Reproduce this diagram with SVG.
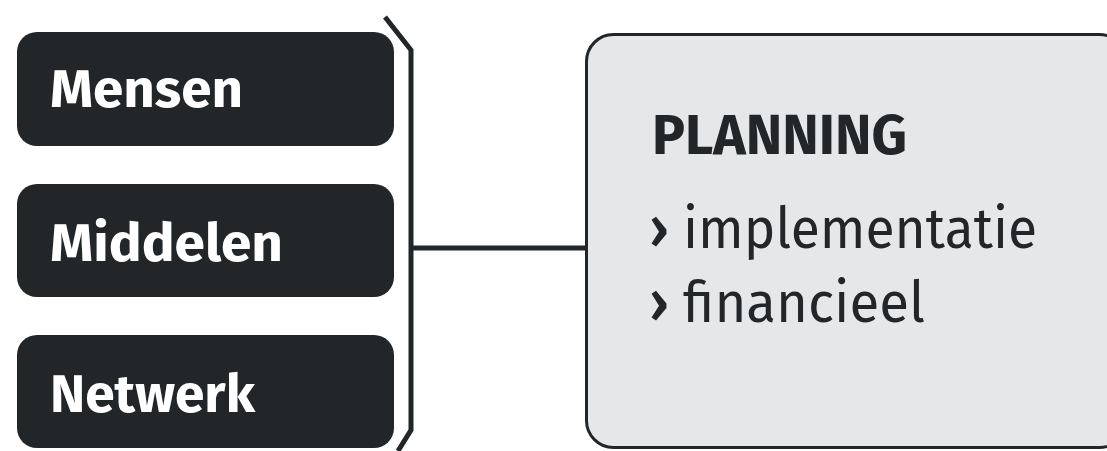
<svg xmlns="http://www.w3.org/2000/svg" width="1107" height="451" viewBox="0 0 1107 451">
<style>
.dark{fill:#222629}
.lbl{font-family:"Fira Sans","Noto Sans","Open Sans",sans-serif;font-weight:bold;font-size:52px;fill:#ffffff}
.line{stroke:#222629;stroke-width:5;fill:none}
.item{font-family:"Fira Sans","Noto Sans","Open Sans",sans-serif;font-size:57px;fill:#222629}
.arr{font-family:"Fira Sans","Noto Sans","Open Sans",sans-serif;font-size:57px;font-weight:500;fill:#222629}
</style>
<rect width="1107" height="451" fill="#ffffff"/>
<g id="connectors">
<path class="line" d="M385,17 L411,50 L411,430 L398,451"/>
<path class="line" d="M411,248 L587,248"/>
</g>
<g id="mensen">
<rect class="dark" x="17" y="32" width="377" height="114" rx="20"/>
<text class="lbl" x="50" y="107" textLength="193" lengthAdjust="spacingAndGlyphs">Mensen</text>
</g>
<g id="middelen">
<rect class="dark" x="17" y="184" width="377" height="113" rx="20"/>
<text class="lbl" x="50" y="261" textLength="233" lengthAdjust="spacingAndGlyphs">Middelen</text>
</g>
<g id="netwerk">
<rect class="dark" x="17" y="335" width="377" height="113" rx="20"/>
<text class="lbl" x="50" y="412" textLength="205" lengthAdjust="spacingAndGlyphs">Netwerk</text>
</g>
<g id="planning">
<rect x="586.5" y="34.5" width="540" height="413" rx="27" fill="#e6e7e9" stroke="#222629" stroke-width="3"/>
<text x="652" y="154" font-family="'Fira Sans','Noto Sans','Open Sans',sans-serif" font-weight="bold" font-size="56" fill="#222629" textLength="255" lengthAdjust="spacingAndGlyphs">PLANNING</text>
<text class="arr" x="649" y="248">›</text>
<text class="item" x="683" y="248" textLength="354" lengthAdjust="spacingAndGlyphs">implementatie</text>
<text class="arr" x="649" y="322">›</text>
<text class="item" x="683" y="322" textLength="242" lengthAdjust="spacingAndGlyphs">financieel</text>
</g>
</svg>
